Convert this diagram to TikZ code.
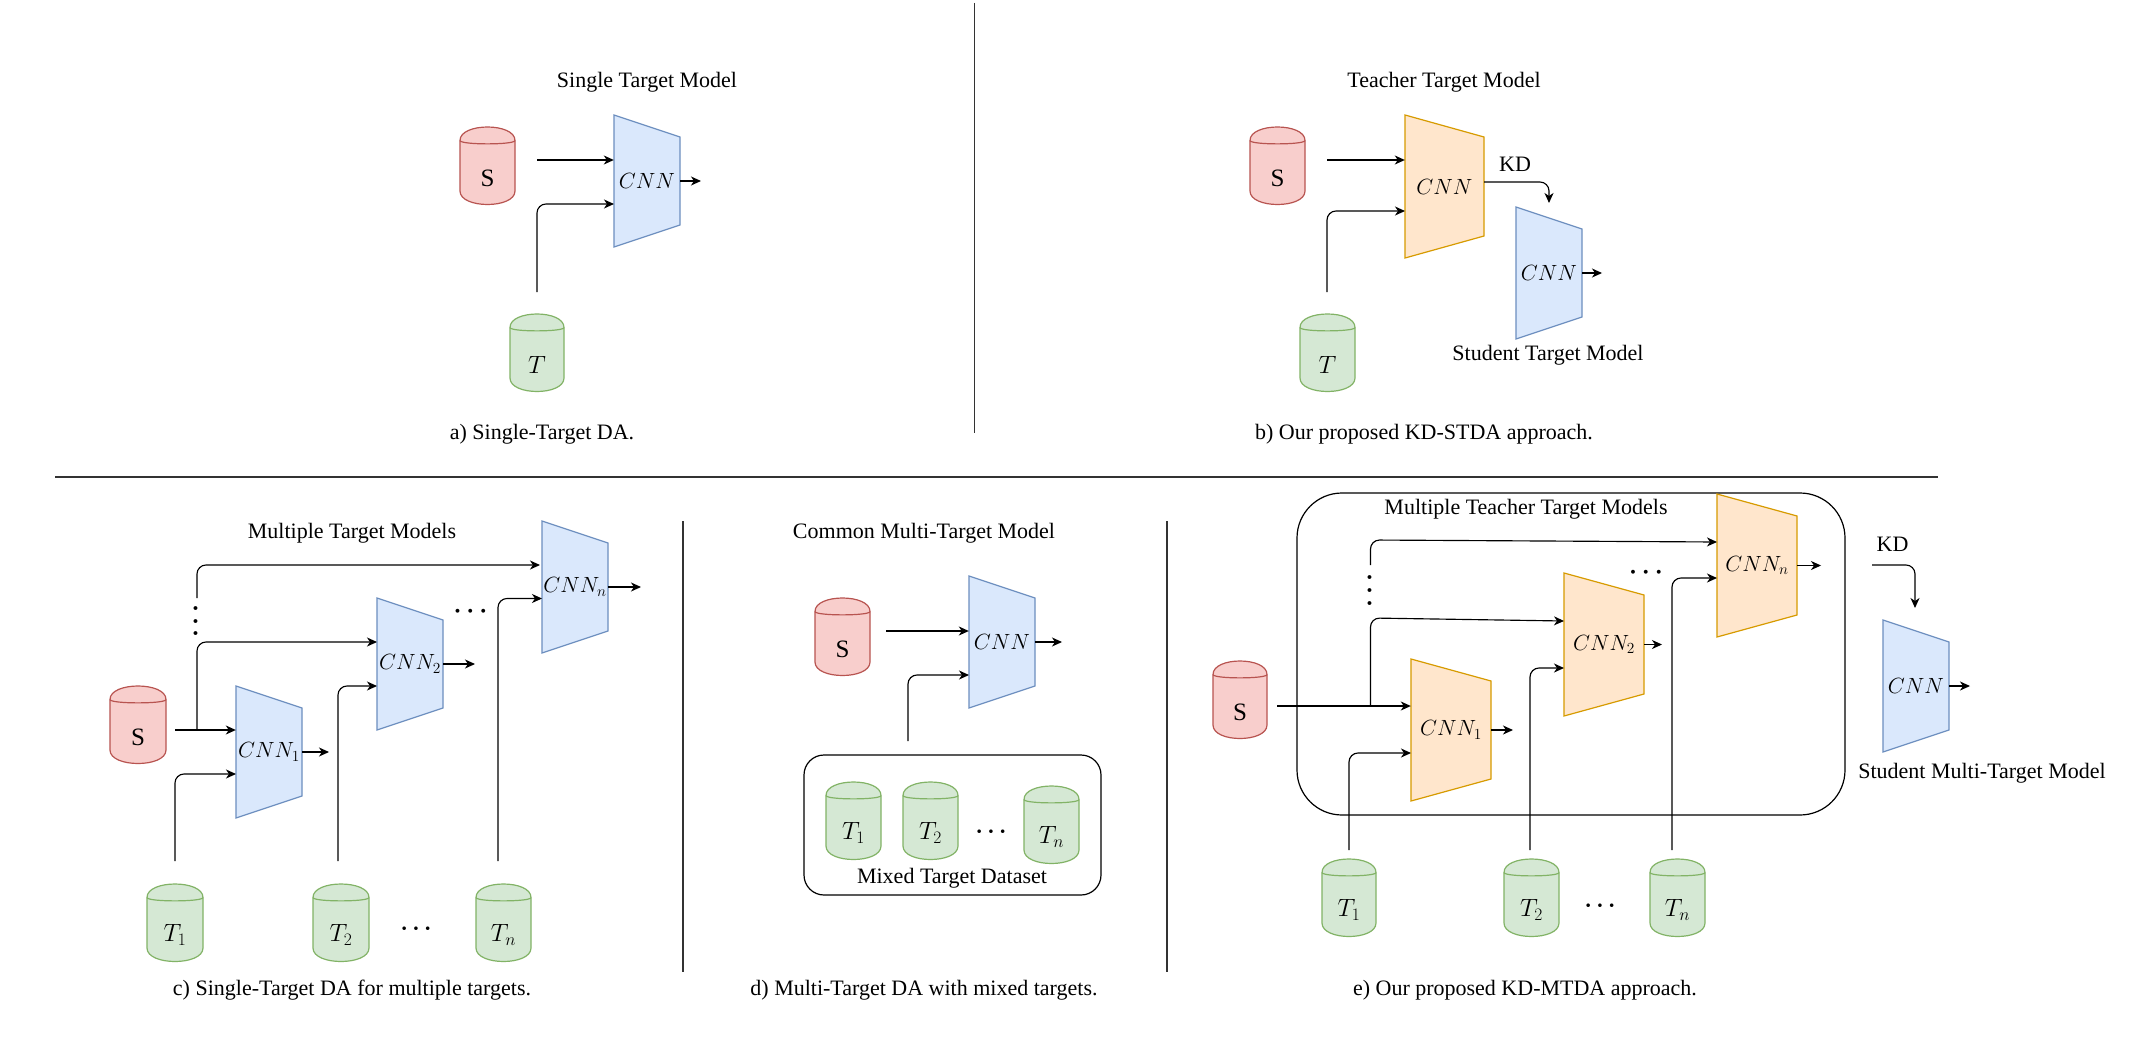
\RequirePackage{fix-cm}
\documentclass[tikz,border=0pt]{standalone}
\usepackage{fontspec}
\setmainfont{Liberation Serif}
\usetikzlibrary{arrows.meta,calc}
\definecolor{bluefill}{HTML}{DAE8FC}\definecolor{bluedraw}{HTML}{6C8EBF}
\definecolor{orangefill}{HTML}{FFE6CC}\definecolor{orangedraw}{HTML}{D79B00}
\definecolor{redfill}{HTML}{F8CECC}\definecolor{reddraw}{HTML}{B85450}
\definecolor{greenfill}{HTML}{D5E8D4}\definecolor{greendraw}{HTML}{82B366}
\tikzset{
  lab/.style={inner sep=0pt,font=\fontsize{22}{24}\selectfont},
  cyllab/.style={inner sep=0pt,font=\fontsize{25}{27}\selectfont},
  bluebox/.style={fill=bluefill,draw=bluedraw,line width=1.2pt,line join=miter},
  orangebox/.style={fill=orangefill,draw=orangedraw,line width=1.2pt,line join=miter},
  redcyl/.style={fill=redfill,draw=reddraw,line width=1.2pt},
  greencyl/.style={fill=greenfill,draw=greendraw,line width=1.2pt},
  conn/.style={-{Stealth[length=10pt,width=9pt,inset=3pt]},line width=1.15pt,black,rounded corners=9pt},
  divider/.style={line width=1.4pt,black!80},
  frame/.style={draw=black,line width=1.2pt,inner sep=0pt},
  smalldots/.style={inner sep=0pt,font=\fontsize{23}{25}\selectfont\boldmath},
  bigdots/.style={inner sep=0pt,font=\fontsize{25}{27}\selectfont\boldmath},
}
\newcommand\cylnode[6]{% name,x0,x1,top,style,label
  \pgfmathsetmacro\cyldy{13.5}\pgfmathsetmacro\cylh{77.5}
  \draw[#5] (#2,#4+\cyldy) .. controls (#2,#4-\cyldy/3) and (#3,#4-\cyldy/3) .. (#3,#4+\cyldy)
     -- (#3,#4+\cylh-\cyldy) .. controls (#3,#4+\cylh+\cyldy/3) and (#2,#4+\cylh+\cyldy/3) .. (#2,#4+\cylh-\cyldy) -- cycle;
  \draw[#5,fill=none] (#2,#4+\cyldy) .. controls (#2,#4+4*\cyldy/3) and (#3,#4+4*\cyldy/3) .. (#3,#4+\cyldy);
  \node[cyllab] (#1) at ({(#2+#3)/2},#4+51) {#6};
}
\newcommand\trapnode[8]{% name,x0,x1,ytop,ybot,slant,style,text
  \draw[#7] (#2,#4) -- (#3,#4+#6) -- (#3,#5-#6) -- (#2,#5) -- cycle;
  \pgfmathsetmacro\trapw{#3-#2}\pgfmathsetmacro\traph{#5-#4}
  \node[lab,minimum width=\trapw pt,minimum height=\traph pt] (#1) at ({(#2+#3)/2},{(#4+#5)/2}) {#8};
}
\newcommand\outarrow[2]{% name, end x
  \coordinate (#1out) at (#2,0);
  \draw[conn] (#1.east) -- (#1.east -| #1out);
}
\begin{document}
\begin{tikzpicture}[x=1pt,y=-1pt]
\useasboundingbox (0,0) rectangle (2131,1049);
\fill[white] (0,0) rectangle (2131,1049);
% dividers
\coordinate (v1a) at (974.5,3); \coordinate (v1b) at (974.5,433);
\draw[divider] (v1a) -- (v1b);
\coordinate (h1a) at (55,477); \coordinate (h1b) at (1938,477);
\draw[divider] (h1a) -- (h1b);
\coordinate (v2a) at (683,521); \coordinate (v2b) at (683,972);
\draw[divider] (v2a) -- (v2b);
\coordinate (v3a) at (1167,521); \coordinate (v3b) at (1167,972);
\draw[divider] (v3a) -- (v3b);

% ---------- a
\node[lab] (aTitle) at (647,82) {Single Target Model};
\cylnode{aS}{460}{515}{127}{redcyl}{S}
\cylnode{aT}{510}{564}{314}{greencyl}{$T$}
\trapnode{aN}{614}{680}{115}{247}{22}{bluebox}{$CNN$}
\coordinate (aSo) at (537,160); \draw[conn] (aSo) -- (aSo -| aN.west);
\coordinate (aTo) at (537,292); \coordinate (aTi) at (614,204); \draw[conn] (aTo) |- (aTi);
\outarrow{aN}{701}
\node[lab] (aCap) at (542,434) {a) Single-Target DA.};

% ---------- b
\node[lab] (bTitle) at (1444,82) {Teacher Target Model};
\cylnode{bS}{1250}{1305}{127}{redcyl}{S}
\cylnode{bT}{1300}{1355}{314}{greencyl}{$T$}
\trapnode{bN}{1405}{1484}{115}{258}{22}{orangebox}{$CNN$}
\trapnode{bM}{1516}{1582}{207}{339}{22}{bluebox}{$CNN$}
\coordinate (bSo) at (1327,160); \draw[conn] (bSo) -- (bSo -| bN.west);
\coordinate (bTo) at (1327,292); \coordinate (bTi) at (1405,211); \draw[conn] (bTo) |- (bTi);
\coordinate (bKo) at (1484,182); \coordinate (bKe) at (1549,203); \draw[conn] (bKo) -| (bKe);
\node[lab] (bKD) at (1515,164) {KD};
\outarrow{bM}{1602}
\node[lab] (bStud) at (1548,355) {Student Target Model};
\node[lab] (bCap) at (1424,434) {b) Our proposed KD-STDA approach.};

% ---------- c
\node[lab] (cTitle) at (352,533) {Multiple Target Models};
\cylnode{cS}{110}{166}{686}{redcyl}{S}
\cylnode{cT1}{147}{203}{884}{greencyl}{$T_1$}
\cylnode{cT2}{313}{369}{884}{greencyl}{$T_2$}
\cylnode{cTn}{476}{531}{884}{greencyl}{$T_n$}
\node[smalldots] (cD1) at (416,929) {$\cdots$};
\trapnode{cN1}{236}{302}{686}{818}{22}{bluebox}{$CNN_1$}
\trapnode{cN2}{377}{443}{598}{730}{22}{bluebox}{$CNN_2$}
\trapnode{cNn}{542}{608}{521}{653}{22}{bluebox}{$CNN_n$}
\coordinate (cSo) at (175,730); \draw[conn] (cSo) -- (cSo -| cN1.west);
\coordinate (cBr) at (197,730); \coordinate (cB2) at (377,642); \draw[conn] (cBr) |- (cB2);
\coordinate (cBu) at (197,598); \coordinate (cB3) at (540,565); \draw[conn] (cBu) |- (cB3);
\node[bigdots,rotate=90] (cVd) at (196,621) {$\cdots$};
\coordinate (cT1o) at (175,861); \coordinate (cT1i) at (236,774); \draw[conn] (cT1o) |- (cT1i);
\coordinate (cT2o) at (338,861); \coordinate (cT2i) at (377,686); \draw[conn] (cT2o) |- (cT2i);
\coordinate (cTno) at (498,861); \coordinate (cTni) at (542,598.5); \draw[conn] (cTno) |- (cTni);
\outarrow{cN1}{329}
\outarrow{cN2}{475}
\outarrow{cNn}{641}
\node[bigdots] (cD2) at (470.5,612) {$\cdots$};
\node[lab] (cCap) at (352,990) {c) Single-Target DA for multiple targets.};

% ---------- d
\node[lab] (dTitle) at (924,533) {Common Multi-Target Model};
\cylnode{dS}{815}{870}{598}{redcyl}{S}
\trapnode{dN}{969}{1035}{576}{708}{22}{bluebox}{$CNN$}
\coordinate (dSo) at (886,631); \draw[conn] (dSo) -- (dSo -| dN.west);
\coordinate (dTo) at (908,741); \coordinate (dTi) at (969,675); \draw[conn] (dTo) |- (dTi);
\outarrow{dN}{1062}
\node[frame,rounded corners=20pt,minimum width=297pt,minimum height=140pt] (dBox) at (952.5,825) {};
\cylnode{dT1}{826}{881}{782}{greencyl}{$T_1$}
\cylnode{dT2}{903}{958}{782}{greencyl}{$T_2$}
\cylnode{dTn}{1024}{1079}{786}{greencyl}{$T_n$}
\node[smalldots] (dDots) at (991,832) {$\cdots$};
\node[lab] (dMix) at (952,878) {Mixed Target Dataset};
\node[lab] (dCap) at (924,990) {d) Multi-Target DA with mixed targets.};

% ---------- e
\node[frame,rounded corners=45pt,minimum width=548pt,minimum height=322pt] (eBox) at (1571,654) {};
\node[lab] (eTitle) at (1526,509) {Multiple Teacher Target Models};
\cylnode{eS}{1213}{1267}{661}{redcyl}{S}
\cylnode{eT1}{1322}{1376}{859}{greencyl}{$T_1$}
\cylnode{eT2}{1504}{1559}{859}{greencyl}{$T_2$}
\cylnode{eTn}{1650}{1705}{859}{greencyl}{$T_n$}
\node[smalldots] (eD1) at (1600,906) {$\cdots$};
\trapnode{eN1}{1411}{1491}{659}{801}{22}{orangebox}{$CNN_1$}
\trapnode{eN2}{1564}{1644}{573}{716}{22}{orangebox}{$CNN_2$}
\trapnode{eNn}{1717}{1797}{494}{637}{22}{orangebox}{$CNN_n$}
\trapnode{eM}{1883}{1949}{620}{752}{22}{bluebox}{$CNN$}
\coordinate (eSo) at (1277,706); \draw[conn] (eSo) -- (eSo -| eN1.west);
\coordinate (eBr) at (1370.5,706); \coordinate (eC2) at (1370.5,618); \coordinate (eB2) at (1564,621);
\draw[conn] (eBr) -- (eC2) -- (eB2);
\coordinate (eBu) at (1370.5,565); \coordinate (eC3) at (1370.5,540); \coordinate (eB3) at (1717,542);
\draw[conn] (eBu) -- (eC3) -- (eB3);
\node[bigdots,rotate=90] (eVd) at (1370,590.5) {$\cdots$};
\coordinate (eT1o) at (1349,850); \coordinate (eT1i) at (1411,753); \draw[conn] (eT1o) |- (eT1i);
\coordinate (eT2o) at (1530,850); \coordinate (eT2i) at (1564,668); \draw[conn] (eT2o) |- (eT2i);
\coordinate (eTno) at (1672,850); \coordinate (eTni) at (1717,578); \draw[conn] (eTno) |- (eTni);
\outarrow{eN1}{1513}
\outarrow{eN2}{1662}
\outarrow{eNn}{1821}
\outarrow{eM}{1970}
\node[bigdots] (eD2) at (1646,573) {$\cdots$};
\node[lab] (eKD) at (1892.5,544) {KD};
\coordinate (eKo) at (1872,565); \coordinate (eKe) at (1915,608); \draw[conn] (eKo) -| (eKe);
\node[lab] (eStud) at (1982,773) {Student Multi-Target Model};
\node[lab] (eCap) at (1525,990) {e) Our proposed KD-MTDA approach.};
\end{tikzpicture}
\end{document}
